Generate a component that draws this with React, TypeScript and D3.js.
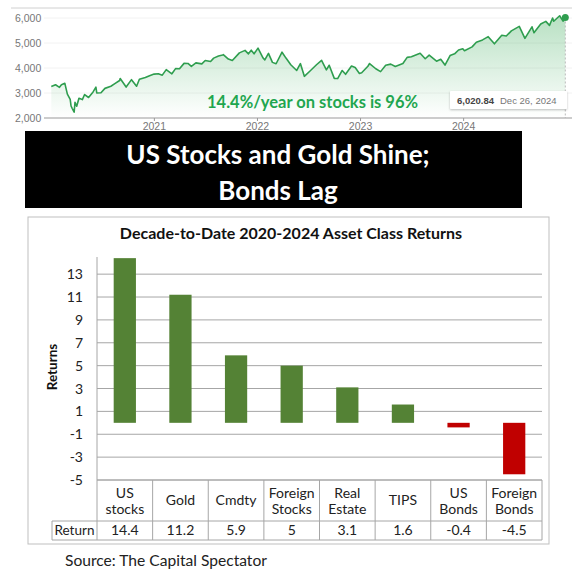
import React from "react";
import * as d3 from "d3";

// ---- Top line chart (S&P 500, 2020-2024) ----
const spDates = [
  "2020-01-02","2020-01-17","2020-01-31","2020-02-07","2020-02-19","2020-02-28","2020-03-09","2020-03-12","2020-03-16","2020-03-23","2020-03-26","2020-04-01","2020-04-09","2020-04-21","2020-04-29","2020-05-13","2020-05-29","2020-06-08","2020-06-11","2020-06-26","2020-07-10","2020-07-31","2020-08-14","2020-08-31","2020-09-02","2020-09-23","2020-10-12","2020-10-30","2020-11-09","2020-11-30","2020-12-15","2020-12-31",
  "2021-01-15","2021-01-29","2021-02-12","2021-03-04","2021-03-17","2021-03-31","2021-04-16","2021-04-30","2021-05-12","2021-05-28","2021-06-18","2021-06-30","2021-07-19","2021-07-30","2021-08-16","2021-08-31","2021-09-02","2021-09-20","2021-10-04","2021-10-29","2021-11-18","2021-11-30","2021-12-10","2021-12-20","2022-01-03",
  "2022-01-21","2022-01-27","2022-02-09","2022-02-23","2022-03-08","2022-03-29","2022-04-12","2022-04-29","2022-05-20","2022-06-02","2022-06-16","2022-07-08","2022-07-29","2022-08-16","2022-09-02","2022-09-12","2022-09-30","2022-10-12","2022-10-28","2022-11-09","2022-11-30","2022-12-13","2022-12-28",
  "2023-01-05","2023-01-27","2023-02-02","2023-02-24","2023-03-13","2023-03-31","2023-04-18","2023-05-04","2023-05-31","2023-06-15","2023-06-30","2023-07-31","2023-08-18","2023-09-01","2023-09-27","2023-10-12","2023-10-27","2023-11-14","2023-11-30","2023-12-14","2023-12-29",
  "2024-01-04","2024-01-31","2024-02-15","2024-03-08","2024-03-28","2024-04-19","2024-05-15","2024-05-31","2024-06-18","2024-07-16","2024-08-05","2024-08-30","2024-09-06","2024-09-30","2024-10-18","2024-10-31","2024-11-11","2024-11-15","2024-12-06","2024-12-18","2024-12-26"
];
const spValues = [
  3258,3330,3226,3328,3386,2954,2747,2480,2386,2237,2630,2470,2790,2737,2939,2820,3044,3232,3002,3009,3185,3271,3373,3500,3580,3237,3534,3270,3550,3622,3694,3756,
  3768,3714,3934,3768,3974,3973,4185,4181,4063,4204,4166,4298,4258,4395,4479,4523,4537,4358,4300,4605,4705,4567,4712,4568,4796,
  4398,4326,4587,4225,4170,4632,4397,4132,3901,4176,3667,3899,4130,4305,3924,4110,3586,3577,3901,3748,4080,4019,3783,
  3808,4070,4179,3970,3855,4109,4154,4061,4180,4426,4450,4589,4370,4516,4274,4349,4117,4496,4568,4720,4770,
  4688,4846,5030,5124,5254,4967,5308,5278,5487,5667,5186,5648,5408,5762,5864,5705,6001,5870,6090,5872,6020.84
];
const spYTicks = [2000, 3000, 4000, 5000, 6000];
const spXTicks = ["2021", "2022", "2023", "2024"];
const annotation = "14.4%/year on stocks is 96%";
const tooltipValue = "6,020.84";
const tooltipDate = "Dec 26, 2024";

// ---- Banner ----
const bannerLines = ["US Stocks and Gold Shine;", "Bonds Lag"];

// ---- Bar chart ----
const barTitle = "Decade-to-Date 2020-2024 Asset Class Returns";
const categories = ["US stocks", "Gold", "Cmdty", "Foreign Stocks", "Real Estate", "TIPS", "US Bonds", "Foreign Bonds"];
const categoryLines = [["US", "stocks"], ["Gold"], ["Cmdty"], ["Foreign", "Stocks"], ["Real", "Estate"], ["TIPS"], ["US", "Bonds"], ["Foreign", "Bonds"]];
const returns = [14.4, 11.2, 5.9, 5, 3.1, 1.6, -0.4, -4.5];
const returnLabels = ["14.4", "11.2", "5.9", "5", "3.1", "1.6", "-0.4", "-4.5"];
const barYTicks = [-5, -3, -1, 1, 3, 5, 7, 9, 11, 13];
const yAxisTitle = "Returns";
const rowLabel = "Return";
const source = "Source: The Capital Spectator";

const CAL = "Lato, 'Open Sans', sans-serif";
const ARIAL = "'Liberation Sans', Arial, sans-serif";

export default function App() {
  const parse = d3.timeParse("%Y-%m-%d");
  const pts = spDates.map((d, i) => ({ date: parse(d) as Date, value: spValues[i] }));
  const x = d3.scaleTime().domain([new Date(2020, 0, 1), new Date(2025, 0, 1)]).range([51, 567]);
  const y = d3.scaleLinear().domain([2000, 6000]).range([118, 18]);
  const line = d3.line<any>().x(d => x(d.date)).y(d => y(d.value)).curve(d3.curveLinear);
  const area = d3.area<any>().x(d => x(d.date)).y0(118).y1(d => y(d.value));
  const last = pts[pts.length - 1];

  const bx = d3.scaleBand().domain(categories).range([97, 542]).paddingInner(0.6).paddingOuter(0.3);
  const by = d3.scaleLinear().domain([-5, 14.5]).range([480, 257]);
  const step = bx.step();
  const colLeft = (c: string) => (bx(c) as number) - (step - bx.bandwidth()) / 2;
  const tableStroke = "#a6a6a6";

  return (
    <svg width={584} height={575} style={{ position: "absolute", left: 0, top: 0, background: "#fff" }}>
      <defs>
        <linearGradient id="areaGrad" x1="0" y1="0" x2="0" y2="1">
          <stop offset="0%" stopColor="#34a853" stopOpacity={0.35} />
          <stop offset="100%" stopColor="#34a853" stopOpacity={0} />
        </linearGradient>
        <filter id="shadow" x="-10%" y="-30%" width="120%" height="160%">
          <feDropShadow dx="0" dy="1" stdDeviation="1.2" floodColor="#000" floodOpacity="0.25" />
        </filter>
      </defs>

      {/* Top line chart */}
      <line x1={11} x2={572} y1={8} y2={8} stroke="#d0d0d0" />
      {spYTicks.map(t => (
        <g key={t}>
          {t !== 2000 && <line x1={44} x2={572} y1={y(t)} y2={y(t)} stroke="#f2f2f2" />}
          <text x={15} y={y(t) + 4} fontFamily={ARIAL} fontSize={10.5} fill="#777">{d3.format(",")(t)}</text>
        </g>
      ))}
      <path d={area(pts) as string} fill="url(#areaGrad)" />
      <line x1={x(last.date)} x2={x(last.date)} y1={y(last.value)} y2={118} stroke="#bbb" strokeDasharray="2,2" />
      <path d={line(pts) as string} fill="none" stroke="#2f9e4f" strokeWidth={1.6} strokeLinejoin="round" />
      <circle cx={x(last.date)} cy={y(last.value)} r={3.5} fill="#2f9e4f" />
      <line x1={44} x2={572} y1={118} y2={118} stroke="#999" />
      {spXTicks.map(t => {
        const xx = x(new Date(+t, 0, 1));
        return (
          <g key={t}>
            <line x1={xx} x2={xx} y1={118} y2={121} stroke="#999" />
            <text x={xx} y={130} textAnchor="middle" fontFamily={ARIAL} fontSize={10.5} fill="#777">{t}</text>
          </g>
        );
      })}
      <text x={207} y={108} fontFamily={CAL} fontWeight="bold" fontSize={16.5} fill="#1fa64f">{annotation}</text>
      <rect x={450} y={91} width={117} height={18} fill="#fff" filter="url(#shadow)" rx={1} />
      <text x={457} y={103.5} fontFamily={ARIAL} fontSize={9.5} fill="#444" fontWeight="bold">{tooltipValue}</text>
      <text x={500} y={103.5} fontFamily={ARIAL} fontSize={9.5} fill="#777">{tooltipDate}</text>

      {/* Banner */}
      <rect x={25} y={131} width={497} height={77} fill="#000" />
      {bannerLines.map((l, i) => (
        <text key={i} x={278} y={164 + i * 36} textAnchor="middle" fontFamily={CAL} fontWeight="bold" fontSize={26} fill="#fff">{l}</text>
      ))}

      {/* Bar chart panel */}
      <rect x={28} y={217} width={521} height={327} fill="#fff" stroke="#bfbfbf" />
      <text x={291} y={239} textAnchor="middle" fontFamily={CAL} fontWeight="bold" fontSize={16} fill="#111">{barTitle}</text>
      {barYTicks.map(t => (
        <g key={t}>
          <line x1={97} x2={542} y1={by(t)} y2={by(t)} stroke="#a6a6a6" />
          <text x={83} y={by(t) + 5} textAnchor="end" fontFamily={CAL} fontSize={14} fill="#222">{t}</text>
        </g>
      ))}
      <line x1={97} x2={97} y1={257} y2={480} stroke="#a6a6a6" />
      <text transform={`translate(${57},${367}) rotate(-90)`} textAnchor="middle" fontFamily={CAL} fontWeight="bold" fontSize={13.5} fill="#111">{yAxisTitle}</text>
      {categories.map((c, i) => {
        const v = returns[i];
        return (
          <rect key={c} x={bx(c)} width={bx.bandwidth()} y={by(Math.max(0, v))} height={Math.abs(by(v) - by(0))}
            fill={v >= 0 ? "#548235" : "#c00000"} />
        );
      })}

      {/* Data table */}
      <line x1={97} x2={542} y1={480} y2={480} stroke={tableStroke} />
      <line x1={52} x2={542} y1={521} y2={521} stroke={tableStroke} />
      <line x1={52} x2={542} y1={540} y2={540} stroke={tableStroke} />
      <line x1={52} x2={52} y1={521} y2={540} stroke={tableStroke} />
      {categories.map(c => (
        <line key={c} x1={colLeft(c)} x2={colLeft(c)} y1={480} y2={540} stroke={tableStroke} />
      ))}
      <line x1={542} x2={542} y1={480} y2={540} stroke={tableStroke} />
      <text x={54.5} y={535} fontFamily={CAL} fontSize={13.5} fill="#222">{rowLabel}</text>
      {categories.map((c, i) => {
        const cx = (bx(c) as number) + bx.bandwidth() / 2;
        const lines = categoryLines[i];
        return (
          <g key={c}>
            {lines.map((l, j) => (
              <text key={j} x={cx} y={lines.length === 1 ? 505 : 498 + j * 16} textAnchor="middle" fontFamily={CAL} fontSize={14} fill="#222">{l}</text>
            ))}
            <text x={cx} y={535} textAnchor="middle" fontFamily={CAL} fontSize={14} fill="#222">{returnLabels[i]}</text>
          </g>
        );
      })}

      <text x={65} y={566} fontFamily={CAL} fontSize={15.6} fill="#222">{source}</text>
    </svg>
  );
}
